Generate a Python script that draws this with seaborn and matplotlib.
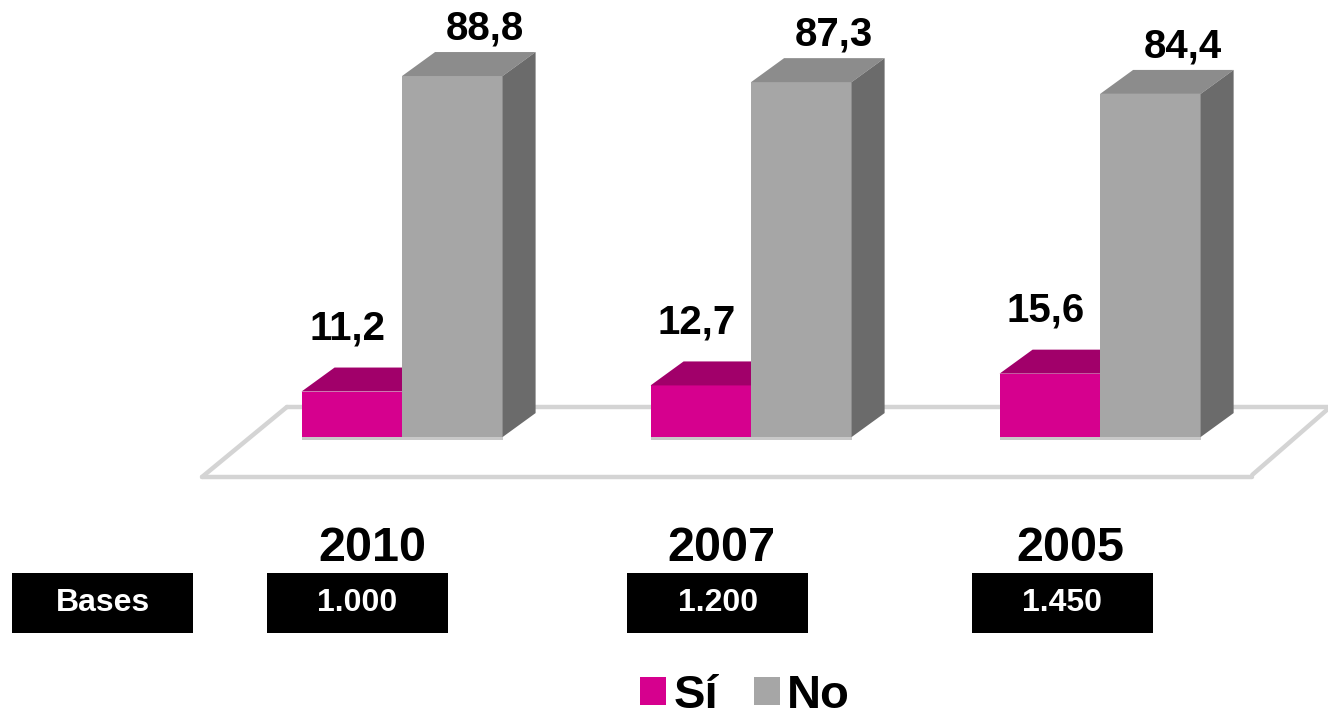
import pandas as pd
import matplotlib.pyplot as plt
import seaborn as sns
from matplotlib.patches import Polygon, Rectangle

# --- data ---
years = ["2010", "2007", "2005"]
si_vals = [11.2, 12.7, 15.6]
no_vals = [88.8, 87.3, 84.4]
bases = ["1.000", "1.200", "1.450"]
answers = ["Sí", "No"]

# colours (front, top, side)
front_colors = {"Sí": "#D6008E", "No": "#A6A6A6"}
top_colors = {"Sí": "#A1006A", "No": "#8C8C8C"}
side_colors = {"Sí": "#8A005B", "No": "#6B6B6B"}

df = pd.DataFrame({
    "year": years * 2,
    "respuesta": ["Sí"] * len(years) + ["No"] * len(years),
    "valor": si_vals + no_vals,
})

sns.set_style("white")
plt.rcParams["font.family"] = ["Liberation Sans", "DejaVu Sans"]

fig = plt.figure(figsize=(13.28, 7.18), dpi=100)
ax = fig.add_axes([0, 0, 1, 1])

sns.barplot(data=df, x="year", y="valor", hue="respuesta", order=years,
            hue_order=answers, palette=front_colors, width=0.576,
            saturation=1, linewidth=0, ax=ax)

ax.set_xlim(-1.152, 2.653)
ax.set_ylim(-69.1, 107.5)
ax.axis("off")

# depth of the fake 3D extrusion, in data units
dx, dy = 0.0946, 5.9

# floor platform (light grey outline) behind the bars
floor_kw = dict(color="#D4D4D4", lw=3.2, zorder=0.5, solid_capstyle="round")
ax.plot([-0.330, 2.653], [7.4, 7.4], **floor_kw)
ax.plot([-0.573, 2.436], [-9.8, -9.8], **floor_kw)
ax.plot([-0.573, -0.330], [-9.8, 7.4], **floor_kw)
ax.plot([2.436, 2.650], [-9.3, 6.7], **floor_kw)

# 3D faces for each bar, plus value labels
for level, container in zip(answers, ax.containers):
    z = 2 if level == "Sí" else 3
    for bar in container:
        x0, w, h = bar.get_x(), bar.get_width(), bar.get_height()
        bar.set_zorder(z)
        top = Polygon([(x0, h), (x0 + w, h), (x0 + w + dx, h + dy), (x0 + dx, h + dy)],
                      closed=True, facecolor=top_colors[level], lw=0, zorder=z)
        side = Polygon([(x0 + w, 0), (x0 + w, h), (x0 + w + dx, h + dy), (x0 + w + dx, dy)],
                       closed=True, facecolor=side_colors[level], lw=0, zorder=z)
        ax.add_patch(top)
        ax.add_patch(side)
        # thin floor strip under the bar
        ax.add_patch(Rectangle((x0, -0.6), w, 0.6, facecolor="#C8C8C8", lw=0, zorder=z))
        label = f"{h:.1f}".replace(".", ",")
        if level == "Sí":
            lx, ly = x0 + w / 2 - 0.012, h + 15.5
        else:
            lx, ly = x0 + w / 2 + dx, h + 11.7
        ax.text(lx, ly, label, ha="center", va="center", fontsize=29,
                fontweight="bold", color="black", zorder=5)

# year labels and bases boxes
box_w, box_h = 0.519, 14.76
box_y = -40.8
box_shift = [-0.128, -0.096, -0.108]
for i, (yr, base) in enumerate(zip(years, bases)):
    ax.text(i - 0.086, -27.3, yr, ha="center", va="center", fontsize=35,
            fontweight="bold", color="black")
    cx = i + box_shift[i]
    ax.add_patch(Rectangle((cx - box_w / 2, box_y - box_h / 2), box_w, box_h,
                           facecolor="black", lw=0, zorder=4))
    ax.text(cx, box_y, base, ha="center", va="center", fontsize=23,
            fontweight="bold", color="white", zorder=5)

cx = -0.858
ax.add_patch(Rectangle((cx - box_w / 2, box_y - box_h / 2), box_w, box_h,
                       facecolor="black", lw=0, zorder=4))
ax.text(cx, box_y, "Bases", ha="center", va="center", fontsize=23,
        fontweight="bold", color="white", zorder=5)

# legend
sns.move_legend(ax, "center", bbox_to_anchor=(0.561, 0.031),
                bbox_transform=fig.transFigure, ncol=2, frameon=False,
                title=None, prop={"weight": "bold", "size": 34},
                labelcolor="black", borderpad=0.1,
                handlelength=0.55, handleheight=0.55, handletextpad=0.15,
                columnspacing=0.75)

fig.savefig("out.png", dpi=100)
